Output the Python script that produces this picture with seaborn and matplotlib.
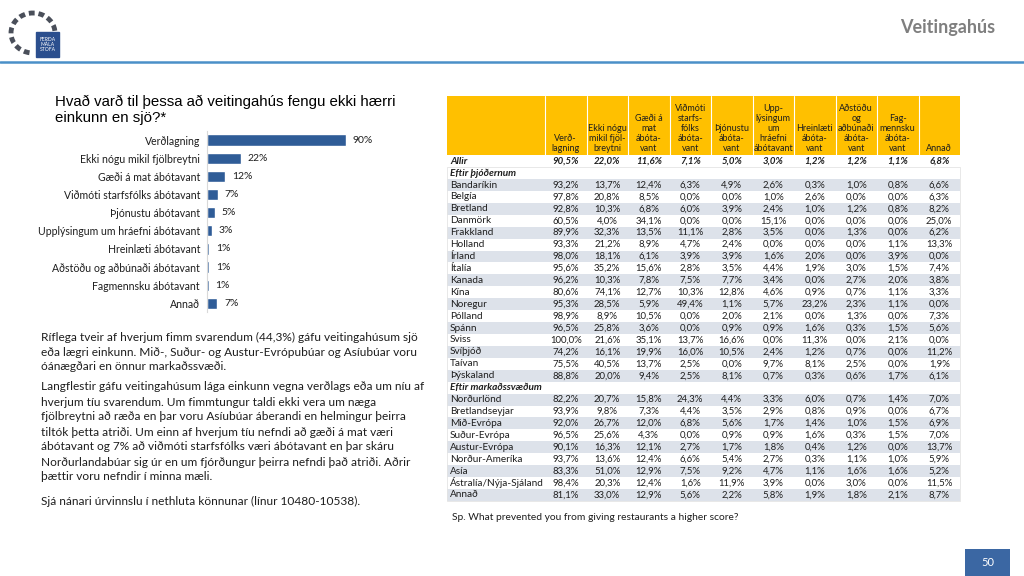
import matplotlib
matplotlib.use("Agg")
import matplotlib.pyplot as plt
from matplotlib.patches import Rectangle, Arc
import seaborn as sns

# Bar chart data (= "Allir" row of the table)
reasons = ["Verðlagning", "Ekki nógu mikil fjölbreytni", "Gæði á mat ábótavant",
           "Viðmóti starfsfólks ábótavant", "Þjónustu ábótavant",
           "Upplýsingum um hráefni ábótavant", "Hreinlæti ábótavant",
           "Aðstöðu og aðbúnaði ábótavant", "Fagmennsku ábótavant", "Annað"]
allir = [90.5, 22.0, 11.6, 7.1, 5.0, 3.0, 1.2, 1.2, 1.1, 6.8]

# Table column heads
col_heads = ["Verð-\nlagning", "Ekki nógu\nmikil fjöl-\nbreytni", "Gæði á\nmat\nábóta-\nvant",
             "Viðmóti\nstarfs-\nfólks\nábóta-\nvant", "Þjónustu\nábóta-\nvant",
             "Upp-\nlýsingum\num\nhráefni\nábótavant", "Hreinlæti\nábóta-\nvant",
             "Aðstöðu\nog\naðbúnaði\nábóta-\nvant", "Fag-\nmennsku\nábóta-\nvant", "Annað"]

countries = ["Bandaríkin", "Belgía", "Bretland", "Danmörk", "Frakkland", "Holland", "Írland",
             "Ítalía", "Kanada", "Kína", "Noregur", "Pólland", "Spánn", "Sviss", "Svíþjóð",
             "Taívan", "Þýskaland"]
country_vals = [
    [93.2, 13.7, 12.4, 6.3, 4.9, 2.6, 0.3, 1.0, 0.8, 6.6],
    [97.8, 20.8, 8.5, 0.0, 0.0, 1.0, 2.6, 0.0, 0.0, 6.3],
    [92.8, 10.3, 6.8, 6.0, 3.9, 2.4, 1.0, 1.2, 0.8, 8.2],
    [60.5, 4.0, 34.1, 0.0, 0.0, 15.1, 0.0, 0.0, 0.0, 25.0],
    [89.9, 32.3, 13.5, 11.1, 2.8, 3.5, 0.0, 1.3, 0.0, 6.2],
    [93.3, 21.2, 8.9, 4.7, 2.4, 0.0, 0.0, 0.0, 1.1, 13.3],
    [98.0, 18.1, 6.1, 3.9, 3.9, 1.6, 2.0, 0.0, 3.9, 0.0],
    [95.6, 35.2, 15.6, 2.8, 3.5, 4.4, 1.9, 3.0, 1.5, 7.4],
    [96.2, 10.3, 7.8, 7.5, 7.7, 3.4, 0.0, 2.7, 2.0, 3.8],
    [80.6, 74.1, 12.7, 10.3, 12.8, 4.6, 0.9, 0.7, 1.1, 3.3],
    [95.3, 28.5, 5.9, 49.4, 1.1, 5.7, 23.2, 2.3, 1.1, 0.0],
    [98.9, 8.9, 10.5, 0.0, 2.0, 2.1, 0.0, 1.3, 0.0, 7.3],
    [96.5, 25.8, 3.6, 0.0, 0.9, 0.9, 1.6, 0.3, 1.5, 5.6],
    [100.0, 21.6, 35.1, 13.7, 16.6, 0.0, 11.3, 0.0, 2.1, 0.0],
    [74.2, 16.1, 19.9, 16.0, 10.5, 2.4, 1.2, 0.7, 0.0, 11.2],
    [75.5, 40.5, 13.7, 2.5, 0.0, 9.7, 8.1, 2.5, 0.0, 1.9],
    [88.8, 20.0, 9.4, 2.5, 8.1, 0.7, 0.3, 0.6, 1.7, 6.1],
]

regions = ["Norðurlönd", "Bretlandseyjar", "Mið-Evrópa", "Suður-Evrópa", "Austur-Evrópa",
           "Norður-Ameríka", "Asía", "Ástralía/Nýja-Sjáland", "Annað"]
region_vals = [
    [82.2, 20.7, 15.8, 24.3, 4.4, 3.3, 6.0, 0.7, 1.4, 7.0],
    [93.9, 9.8, 7.3, 4.4, 3.5, 2.9, 0.8, 0.9, 0.0, 6.7],
    [92.0, 26.7, 12.0, 6.8, 5.6, 1.7, 1.4, 1.0, 1.5, 6.9],
    [96.5, 25.6, 4.3, 0.0, 0.9, 0.9, 1.6, 0.3, 1.5, 7.0],
    [90.1, 16.3, 12.1, 2.7, 1.7, 1.8, 0.4, 1.2, 0.0, 13.7],
    [93.7, 13.6, 12.4, 6.6, 5.4, 2.7, 0.3, 1.1, 1.0, 5.9],
    [83.3, 51.0, 12.9, 7.5, 9.2, 4.7, 1.1, 1.6, 1.6, 5.2],
    [98.4, 20.3, 12.4, 1.6, 11.9, 3.9, 0.0, 3.0, 0.0, 11.5],
    [81.1, 33.0, 12.9, 5.6, 2.2, 5.8, 1.9, 1.8, 2.1, 8.7],
]

p1 = ["Ríflega tveir af hverjum fimm svarendum (44,3%) gáfu veitingahúsum sjö",
      "eða lægri einkunn. Mið-, Suður- og Austur-Evrópubúar og Asíubúar voru",
      "óánægðari en önnur markaðssvæði."]
p2 = ["Langflestir gáfu veitingahúsum lága einkunn vegna verðlags eða um níu af",
      "hverjum tíu svarendum. Um fimmtungur taldi ekki vera um næga",
      "fjölbreytni að ræða en þar voru Asíubúar áberandi en helmingur þeirra",
      "tiltók þetta atriði. Um einn af hverjum tíu nefndi að gæði á mat væri",
      "ábótavant og 7% að viðmóti starfsfólks væri ábótavant en þar skáru",
      "Norðurlandabúar sig úr en um fjórðungur þeirra nefndi það atriði. Aðrir",
      "þættir voru nefndir í minna mæli."]
p3 = ["Sjá nánari úrvinnslu í nethluta könnunar (línur 10480-10538)."]

def pct(v):
    return f"{v:.1f}%".replace(".", ",")

sns.set_theme(style="white")
plt.rcParams['font.family'] = ['Lato', 'DejaVu Sans']
txt = '#1e1e1e'

fig = plt.figure(figsize=(10.24, 5.76), dpi=100)
page = fig.add_axes([0, 0, 1, 1])
page.set_xlim(0, 1024)
page.set_ylim(576, 0)
page.axis('off')

#Header: logo, line, slide title
page.add_patch(Arc((33, 33), 44, 40, theta1=100, theta2=360, color='#4a4f5a', lw=3.5, ls=(0, (1.2, 0.8))))
page.add_patch(Rectangle((36, 32), 23, 25, color='#2b4f8e'))
page.text(47.5, 44.5, "FERÐA\nMÁLA\nSTOFA", color='white', fontsize=3.6, ha='center', va='center', linespacing=1.0)
page.plot([0, 1024], [61.5, 61.5], color='#4a90c8', lw=1.8)
page.text(995, 28, "Veitingahús", color='#7f7f7f', fontsize=13, fontweight='bold', ha='right', va='center')

#Question title
page.text(55, 110, "Hvað varð til þessa að veitingahús fengu ekki hærri\neinkunn en sjö?*",
          family=['Liberation Sans'], fontsize=10.8, va='center', linespacing=1.25, color='black')

#Body text
y = 337
for line in p1:
    page.text(41, y, line, fontsize=8.6, va='center', color=txt)
    y += 15
y = 387
for line in p2:
    page.text(41, y, line, fontsize=8.6, va='center', color=txt)
    y += 15
page.text(41, 501, p3[0], fontsize=8.6, va='center', color=txt)

#Table
x0, xl, cw = 447, 545, 41.5
x1 = xl + cw * 10
top, hb, rh = 96, 155.2, 11.92
page.add_patch(Rectangle((x0, top), x1 - x0, hb - top, color='#ffc000', lw=0))
for j in range(10):
    cx = xl + cw * (j + 0.5)
    page.plot([xl + cw * j, xl + cw * j], [top, hb], color='white', lw=0.8)
    page.text(cx, 153, col_heads[j], fontsize=6.5, ha='center', va='bottom', linespacing=1.15, color=txt)

rows = [("Allir", allir, 'head'), ("Eftir þjóðernum", None, 'group')]
rows += [(n, v, 'row') for n, v in zip(countries, country_vals)]
rows += [("Eftir markaðssvæðum", None, 'group')]
rows += [(n, v, 'row') for n, v in zip(regions, region_vals)]

for i, (name, vals, kind) in enumerate(rows):
    ry = hb + rh * i
    cy = ry + rh / 2
    if kind == 'row' and i % 2 == 0:
        page.add_patch(Rectangle((x0, ry), x1 - x0, rh, color='#dde2ea', lw=0))
    style = 'italic' if kind != 'row' else 'normal'
    weight = 'bold' if kind != 'row' else 'normal'
    page.text(x0 + 3, cy, name, fontsize=7.2, va='center', style=style, fontweight=weight, color=txt)
    if vals is not None:
        for j, v in enumerate(vals):
            page.text(xl + cw * (j + 0.5), cy, pct(v), fontsize=6.9, ha='center', va='center',
                      style=style, fontweight=weight, color=txt)
page.add_patch(Rectangle((x0, hb + rh), x1 - x0, rh * (len(rows) - 1), fill=False, ec='#e4e4e4', lw=0.6))

page.text(452, 517, "Sp. What prevented you from giving restaurants a higher score?", fontsize=7.4,
          va='center', color=txt)

#Page number
page.add_patch(Rectangle((965, 549), 45, 27, color='#3b67a3', lw=0))
page.text(987.5, 562, "50", color='white', fontsize=8, ha='center', va='center')

#Bar chart
ax = fig.add_axes([207 / 1024, 1 - 312.4 / 576, 153.3 / 1024, 181.4 / 576])
sns.barplot(x=allir, y=reasons, orient='h', color='#2f5c97', saturation=1, width=0.62, ax=ax)
ax.bar_label(ax.containers[0], labels=[f"{v:.0f}%" for v in allir], padding=5, fontsize=7.5, color=txt)
ax.set_xlim(0, 100)
ax.set_xticks([])
ax.set_xlabel("")
ax.set_ylabel("")
ax.tick_params(axis='y', length=0, pad=5, labelsize=7.6, labelcolor=txt)
for s in ['top', 'right', 'bottom']:
    ax.spines[s].set_visible(False)
ax.spines['left'].set_color('#d9d9d9')
ax.spines['left'].set_linewidth(0.8)
ax.patch.set_alpha(0)

fig.savefig("out.png", dpi=100)
